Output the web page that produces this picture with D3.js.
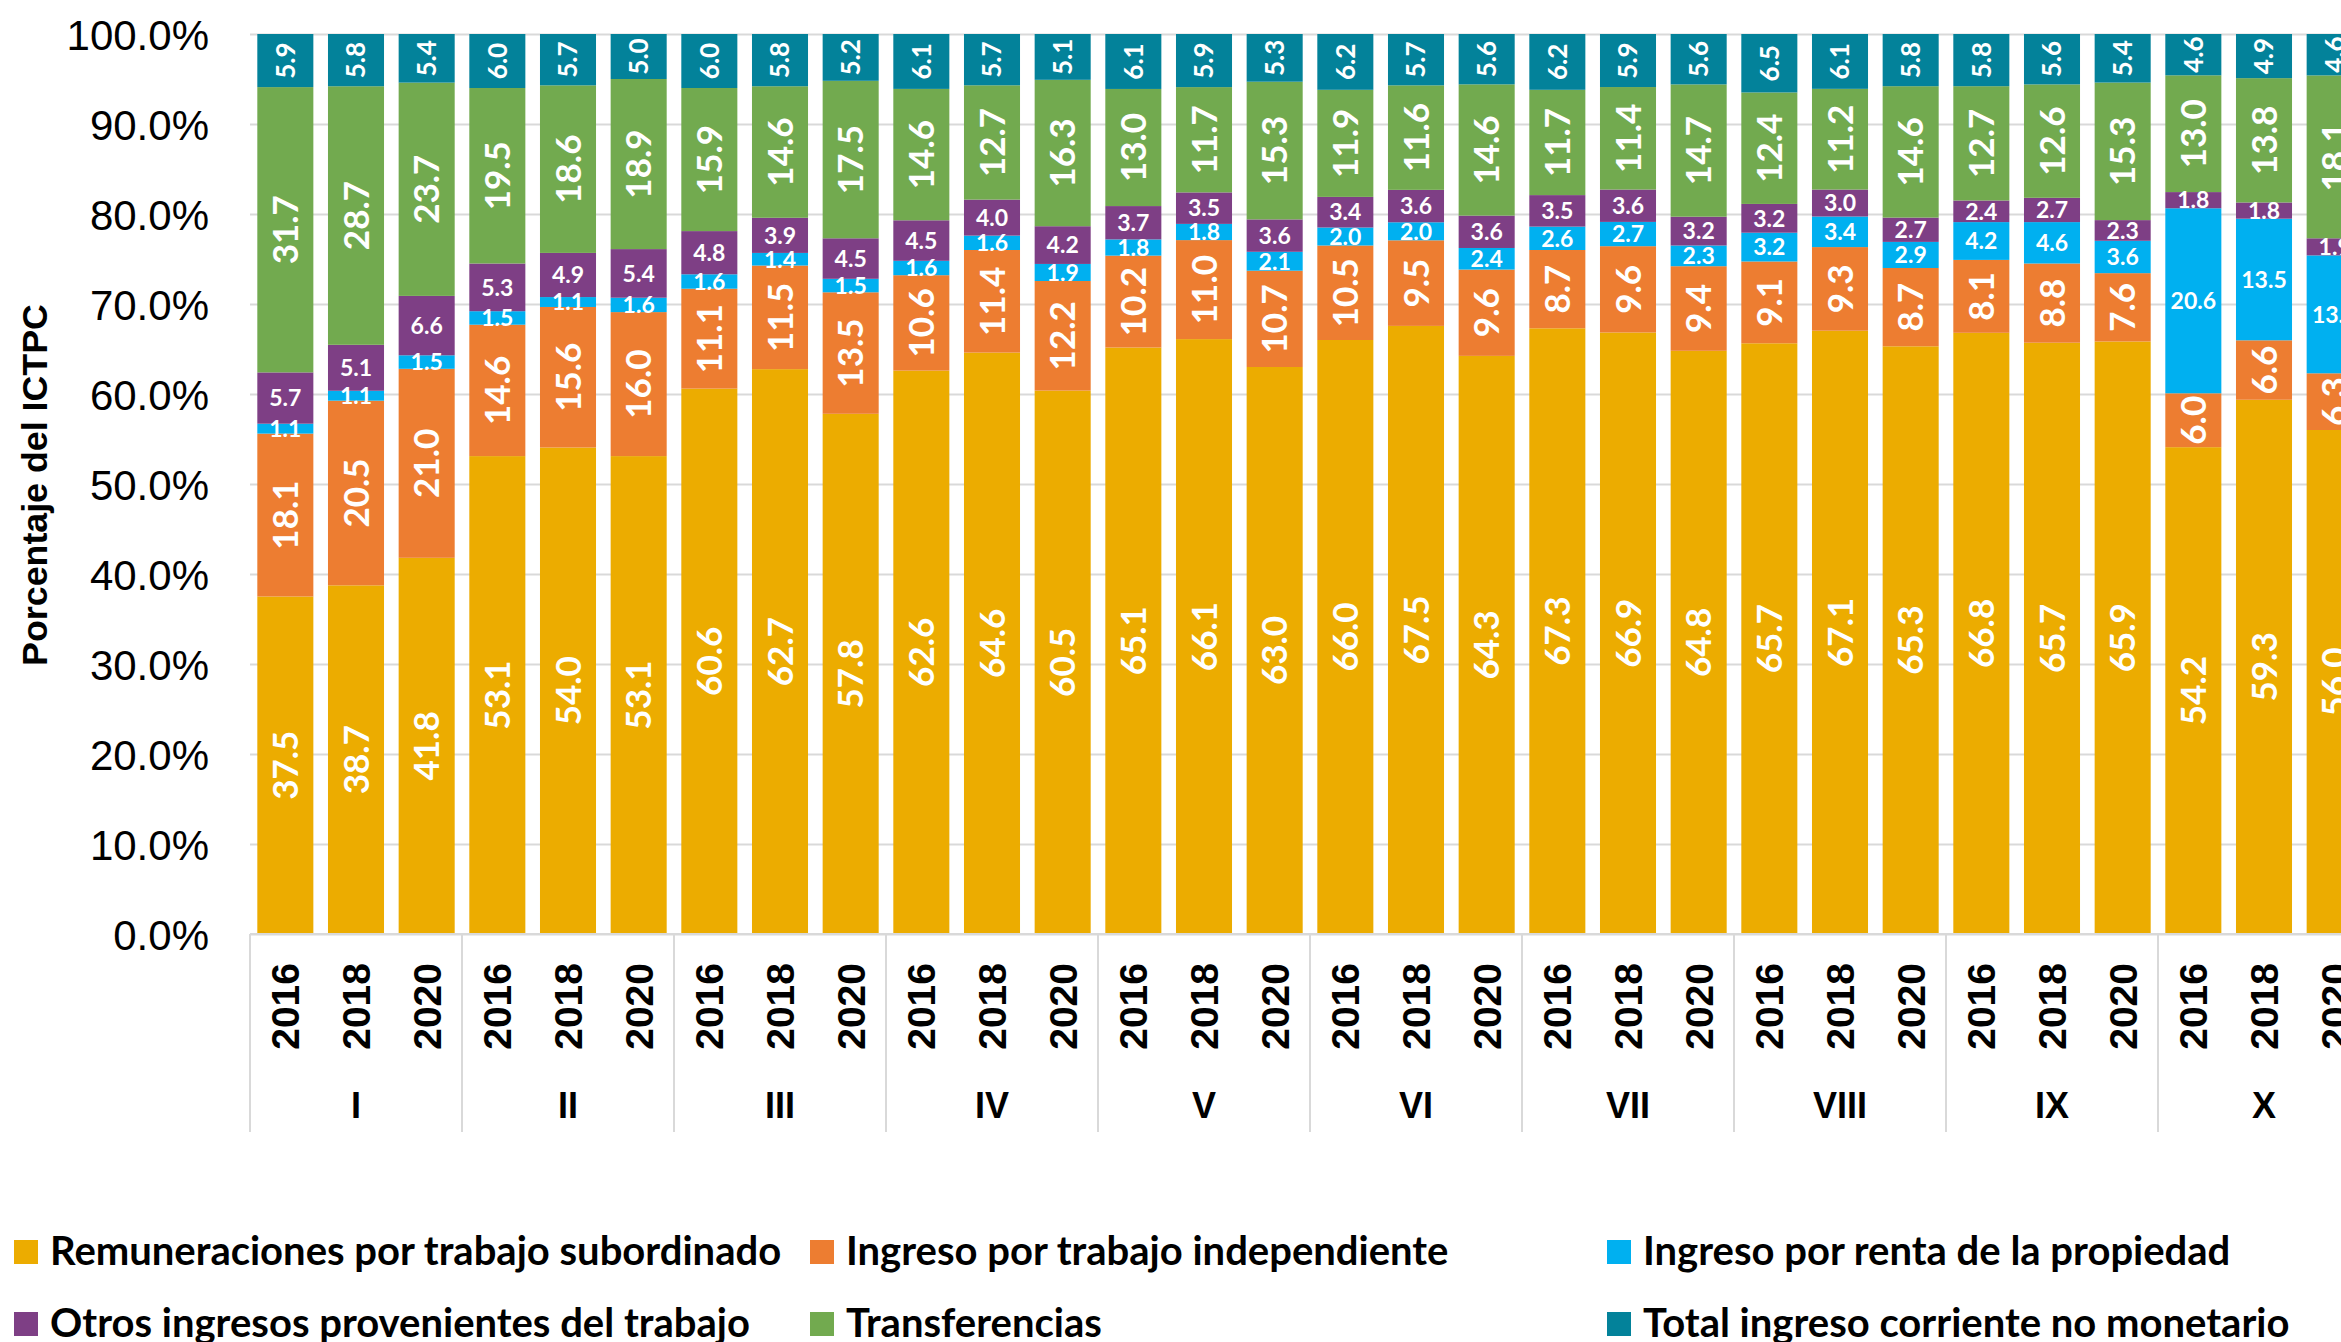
<!DOCTYPE html>
<html lang="es">
<head>
<meta charset="utf-8">
<title>Composición del ICTPC por decil</title>
<script src="https://cdn.jsdelivr.net/npm/d3@7"></script>
<style>
  html, body { margin: 0; padding: 0; background: #ffffff; overflow: hidden; }
  svg { display: block; }
</style>
</head>
<body>
<script>
// Deciles and survey years
const groups = ["I", "II", "III", "IV", "V", "VI", "VII", "VIII", "IX", "X"];
const years = ["2016", "2018", "2020"];

// Series values, in percent, ordered decil by decil (2016, 2018, 2020)
const remuneraciones = [
  37.5, 38.7, 41.8,  53.1, 54.0, 53.1,  60.6, 62.7, 57.8,  62.6, 64.6, 60.5,
  65.1, 66.1, 63.0,  66.0, 67.5, 64.3,  67.3, 66.9, 64.8,  65.7, 67.1, 65.3,
  66.8, 65.7, 65.9,  54.2, 59.3, 56.0
];
const independiente = [
  18.1, 20.5, 21.0,  14.6, 15.6, 16.0,  11.1, 11.5, 13.5,  10.6, 11.4, 12.2,
  10.2, 11.0, 10.7,  10.5, 9.5, 9.6,    8.7, 9.6, 9.4,     9.1, 9.3, 8.7,
  8.1, 8.8, 7.6,     6.0, 6.6, 6.3
];
const rentaPropiedad = [
  1.1, 1.1, 1.5,  1.5, 1.1, 1.6,  1.6, 1.4, 1.5,  1.6, 1.6, 1.9,
  1.8, 1.8, 2.1,  2.0, 2.0, 2.4,  2.6, 2.7, 2.3,  3.2, 3.4, 2.9,
  4.2, 4.6, 3.6,  20.6, 13.5, 13.1
];
const otrosTrabajo = [
  5.7, 5.1, 6.6,  5.3, 4.9, 5.4,  4.8, 3.9, 4.5,  4.5, 4.0, 4.2,
  3.7, 3.5, 3.6,  3.4, 3.6, 3.6,  3.5, 3.6, 3.2,  3.2, 3.0, 2.7,
  2.4, 2.7, 2.3,  1.8, 1.8, 1.9
];
const transferencias = [
  31.7, 28.7, 23.7,  19.5, 18.6, 18.9,  15.9, 14.6, 17.5,  14.6, 12.7, 16.3,
  13.0, 11.7, 15.3,  11.9, 11.6, 14.6,  11.7, 11.4, 14.7,  12.4, 11.2, 14.6,
  12.7, 12.6, 15.3,  13.0, 13.8, 18.1
];
const noMonetario = [
  5.9, 5.8, 5.4,  6.0, 5.7, 5.0,  6.0, 5.8, 5.2,  6.1, 5.7, 5.1,
  6.1, 5.9, 5.3,  6.2, 5.7, 5.6,  6.2, 5.9, 5.6,  6.5, 6.1, 5.8,
  5.8, 5.6, 5.4,  4.6, 4.9, 4.6
];

const seriesNames = [
  "Remuneraciones por trabajo subordinado",
  "Ingreso por trabajo independiente",
  "Ingreso por renta de la propiedad",
  "Otros ingresos provenientes del trabajo",
  "Transferencias",
  "Total ingreso corriente no monetario"
];
const seriesValues = [remuneraciones, independiente, rentaPropiedad, otrosTrabajo, transferencias, noMonetario];
const seriesColors = ["#ECAC00", "#ED7D31", "#00B0F0", "#7E3F85", "#72AA4F", "#03829A"];

const yTickValues = [0, 0.1, 0.2, 0.3, 0.4, 0.5, 0.6, 0.7, 0.8, 0.9, 1.0];
const yTitle = "Porcentaje del ICTPC";

// ---- layout ----
const W = 2341, H = 1342;
const plotLeft = 250, plotRight = 2370, plotTop = 34, plotBottom = 934;
const ARIAL = "'Liberation Sans', Arial, sans-serif";
const LATO = "Lato, 'Liberation Sans', sans-serif";

const svg = d3.select("body").append("svg")
  .attr("width", W).attr("height", H)
  .attr("viewBox", `0 0 ${W} ${H}`);

// rows: one per bar
const rows = [];
groups.forEach((g, gi) => years.forEach((yr, yi) => {
  const i = gi * years.length + yi;
  const row = { group: g, year: yr };
  seriesNames.forEach((s, si) => { row[s] = seriesValues[si][i]; });
  rows.push(row);
}));

const x0 = d3.scaleBand().domain(groups).range([plotLeft, plotRight]).padding(0);
const x1 = d3.scaleBand().domain(years).range([0, x0.bandwidth()])
  .paddingInner(0.207).paddingOuter(0.1035);
const y = d3.scaleLinear().domain([0, 1]).range([plotBottom, plotTop]);
const color = d3.scaleOrdinal().domain(seriesNames).range(seriesColors);

const stacked = d3.stack().keys(seriesNames).offset(d3.stackOffsetExpand)(rows);

// gridlines
const grid = svg.append("g")
  .attr("transform", `translate(${plotLeft},0)`)
  .call(d3.axisLeft(y).tickValues(yTickValues).tickSize(-(plotRight - plotLeft)).tickFormat(""));
grid.select(".domain").remove();
grid.selectAll(".tick line").attr("stroke", "#d9d9d9").attr("stroke-width", 2);

// y tick labels
const yAxis = svg.append("g")
  .attr("transform", `translate(209,0)`)
  .call(d3.axisLeft(y).tickValues(yTickValues).tickSize(0).tickPadding(0).tickFormat(d3.format(".1%")));
yAxis.select(".domain").remove();
yAxis.selectAll("text")
  .attr("font-family", ARIAL).attr("font-size", 42).attr("fill", "#000").attr("dy", "0.36em");

// y axis title (stretched along its length)
const title = svg.append("text")
  .text(yTitle)
  .attr("font-family", ARIAL).attr("font-weight", "bold").attr("font-size", 35)
  .attr("text-anchor", "middle").attr("dy", "0.36em").attr("fill", "#000");
const titleLen = title.node().getComputedTextLength();
title.attr("transform", `translate(34,485) rotate(-90) scale(${362 / titleLen},1)`);

// bars
const layer = svg.append("g").selectAll("g")
  .data(stacked).join("g")
  .attr("fill", d => color(d.key));

layer.selectAll("rect")
  .data(d => d)
  .join("rect")
  .attr("x", d => x0(d.data.group) + x1(d.data.year))
  .attr("width", x1.bandwidth())
  .attr("y", d => y(d[1]))
  .attr("height", d => y(d[0]) - y(d[1]));

// value labels
const horizontalSeries = new Set([seriesNames[2], seriesNames[3]]);
const labels = svg.append("g").attr("fill", "#fff").attr("font-family", LATO).attr("font-weight", "bold");
stacked.forEach(s => {
  const horiz = horizontalSeries.has(s.key);
  const size = horiz ? 23 : (s.key === seriesNames[5] ? 26 : 35);
  labels.append("g").selectAll("text")
    .data(s)
    .join("text")
    .text(d => d3.format(".1f")(d.data[s.key]))
    .attr("font-size", size)
    .attr("text-anchor", "middle")
    .attr("dy", "0.36em")
    .attr("transform", d => {
      const cx = x0(d.data.group) + x1(d.data.year) + x1.bandwidth() / 2;
      const cy = (y(d[0]) + y(d[1])) / 2;
      return horiz ? `translate(${cx},${cy})` : `translate(${cx},${cy}) rotate(-90)`;
    });
});

// baseline
svg.append("line")
  .attr("x1", plotLeft).attr("x2", plotRight)
  .attr("y1", plotBottom).attr("y2", plotBottom)
  .attr("stroke", "#d9d9d9").attr("stroke-width", 2);

// year labels, one axis per decil
groups.forEach(g => {
  const ax = svg.append("g")
    .attr("transform", `translate(${x0(g)},${plotBottom})`)
    .call(d3.axisBottom(x1).tickSize(0));
  ax.select(".domain").remove();
  ax.selectAll("text")
    .attr("font-family", ARIAL).attr("font-weight", "bold").attr("font-size", 39).attr("fill", "#000")
    .attr("transform", "rotate(-90)")
    .attr("x", -29).attr("y", 0).attr("dy", "0.36em")
    .style("text-anchor", "end");
});

// decil labels
const groupAxis = svg.append("g")
  .attr("transform", `translate(0,1118)`)
  .call(d3.axisBottom(x0).tickSize(0).tickPadding(0));
groupAxis.select(".domain").remove();
groupAxis.selectAll("text")
  .attr("font-family", ARIAL).attr("font-weight", "bold").attr("font-size", 36).attr("fill", "#000")
  .attr("y", 0).attr("dy", 0);

// group separators
const edges = groups.map(g => x0(g)).concat([x0(groups[groups.length - 1]) + x0.bandwidth()]);
svg.append("g").selectAll("line")
  .data(edges).join("line")
  .attr("x1", d => d).attr("x2", d => d)
  .attr("y1", plotBottom).attr("y2", 1132)
  .attr("stroke", "#d9d9d9").attr("stroke-width", 2);

// legend: two rows of three
const legendCols = [14, 810, 1607];
const legendRows = [1240, 1312];
const legend = svg.append("g").selectAll("g")
  .data(seriesNames).join("g")
  .attr("transform", (d, i) => `translate(${legendCols[i % 3]},${legendRows[Math.floor(i / 3)]})`);
legend.append("rect")
  .attr("width", 24).attr("height", 24)
  .attr("fill", d => color(d));
legend.append("text")
  .text(d => d)
  .attr("x", 36).attr("y", 25)
  .attr("font-family", LATO).attr("font-weight", "bold").attr("font-size", 40).attr("fill", "#000");
</script>
</body>
</html>
